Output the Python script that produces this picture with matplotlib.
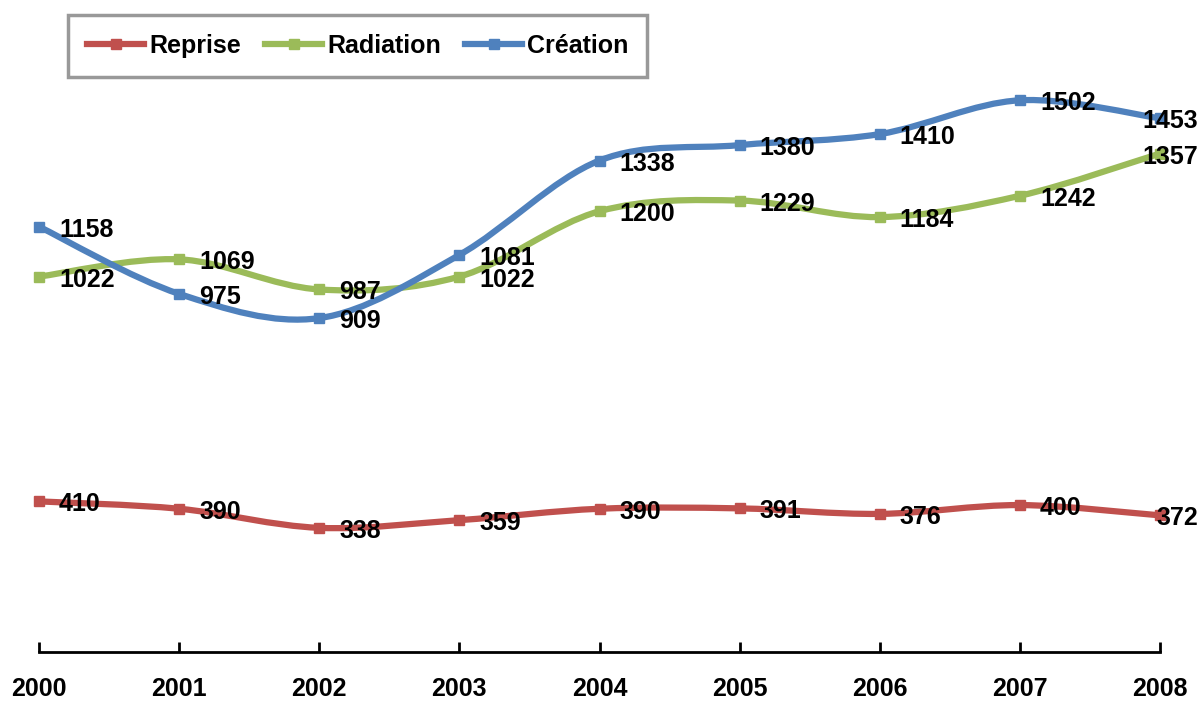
import numpy as np
import matplotlib
matplotlib.use('Agg')
from matplotlib import pyplot as plt
from matplotlib.path import Path
from matplotlib.patches import PathPatch
from matplotlib.lines import Line2D

plt.rcParams['font.family'] = ['Liberation Sans', 'DejaVu Sans']
plt.rcParams['font.weight'] = 'bold'

# données
years = [2000, 2001, 2002, 2003, 2004, 2005, 2006, 2007, 2008]
reprise = [410, 390, 338, 359, 390, 391, 376, 400, 372]
radiation = [1022, 1069, 987, 1022, 1200, 1229, 1184, 1242, 1357]
creation = [1158, 975, 909, 1081, 1338, 1380, 1410, 1502, 1453]

series = [
    ('Reprise', reprise, '#C0504D'),
    ('Radiation', radiation, '#9BBB59'),
    ('Création', creation, '#4F81BD'),
]

FS = 18


def smooth_path(xs, ys):
    # courbe lissée façon Excel (Bézier de type Catmull-Rom)
    x = np.asarray(xs, float)
    y = np.asarray(ys, float)
    verts = [(x[0], y[0])]
    codes = [Path.MOVETO]
    n = len(x)
    for i in range(n - 1):
        x0, y0 = (x[i - 1], y[i - 1]) if i > 0 else (x[i], y[i])
        x3, y3 = (x[i + 2], y[i + 2]) if i + 2 < n else (x[i + 1], y[i + 1])
        c1 = (x[i] + (x[i + 1] - x0) / 6, y[i] + (y[i + 1] - y0) / 6)
        c2 = (x[i + 1] - (x3 - x[i]) / 6, y[i + 1] - (y3 - y[i]) / 6)
        verts += [c1, c2, (x[i + 1], y[i + 1])]
        codes += [Path.CURVE4] * 3
    return Path(verts, codes)


fig = plt.figure(figsize=(12, 7.02), dpi=100)
ax = fig.add_axes([39 / 1200, 50 / 702, (1160 - 39) / 1200, 652 / 702])
ax.set_xlim(2000, 2008)
ax.set_ylim(0, 1775)

for name, vals, col in series:
    ax.add_patch(PathPatch(smooth_path(years, vals), facecolor='none',
                           edgecolor=col, lw=4.5, capstyle='round', joinstyle='round'))
    ax.plot(years, vals, ls='none', marker='s', ms=7, color=col, clip_on=False)
    for i, (x, v) in enumerate(zip(years, vals)):
        if i == len(years) - 1:
            ax.annotate(str(v), (x, v), xytext=(38, -3), textcoords='offset pixels',
                        ha='right', va='center', fontsize=FS, fontweight='bold',
                        annotation_clip=False)
        else:
            ax.annotate(str(v), (x, v), xytext=(20, -3), textcoords='offset pixels',
                        ha='left', va='center', fontsize=FS, fontweight='bold',
                        annotation_clip=False)

for s in ['top', 'right', 'left']:
    ax.spines[s].set_visible(False)
ax.spines['bottom'].set_linewidth(2)
ax.set_yticks([])
ax.set_xticks(years)
ax.set_xticklabels([str(y) for y in years], fontsize=FS, fontweight='bold')
ax.tick_params(axis='x', direction='in', length=7, width=2, pad=18)

handles = [Line2D([], [], color=col, lw=4.5, marker='s', ms=7) for _, _, col in series]
leg = fig.legend(handles, [n for n, _, _ in series], loc='upper left',
                 bbox_to_anchor=(68 / 1200, 1 - 15 / 702), ncol=3,
                 prop={'size': FS, 'weight': 'bold'}, frameon=True, fancybox=False,
                 edgecolor='#808080', handlelength=2.3, handletextpad=0.2,
                 columnspacing=0.95, borderpad=0.75, borderaxespad=0)
leg.get_frame().set_linewidth(2.5)

fig.savefig('out.png', dpi=100)
plt.close()
